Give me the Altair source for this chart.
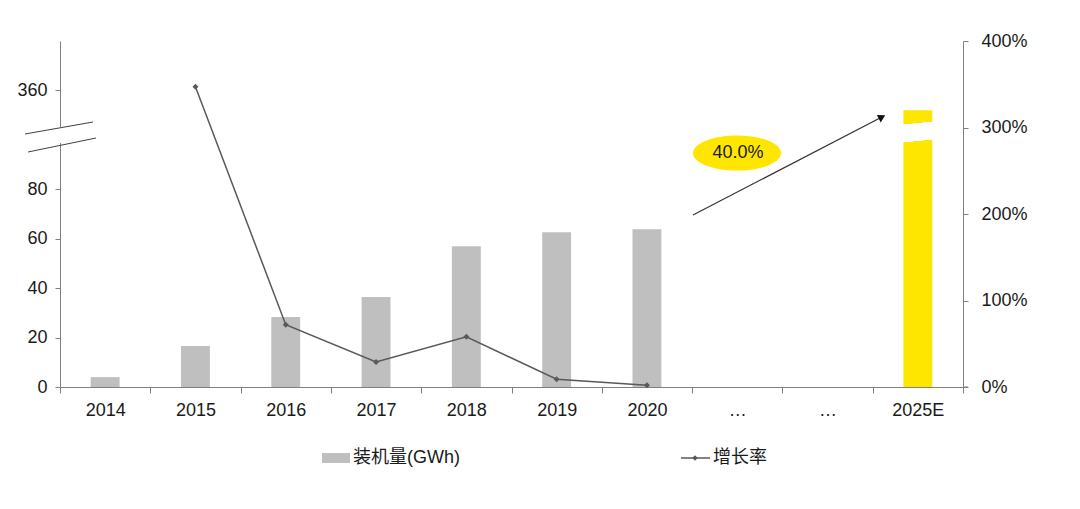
import altair as alt
import pandas as pd

# ---- data ----
categories = ["2014", "2015", "2016", "2017", "2018", "2019", "2020", "…a", "…b", "2025E"]
capacity = [4.0, 16.6, 28.3, 36.4, 57.0, 62.6, 63.8, None, None, 112.0]   # 装机量(GWh), axis-scale value
growth = [None, 3.47, 0.72, 0.29, 0.58, 0.09, 0.02, None, None, None]      # 增长率
bar_colors = ["#BFBFBF"] * 9 + ["#FFE600"]

FONT = "Liberation Sans, Arial, Noto Sans CJK SC"
FS = 18
W, H = 903, 346

df = pd.DataFrame({"cat": categories, "cap": capacity, "growth": growth, "color": bar_colors})

x_enc = alt.X(
    "cat:N",
    sort=categories,
    scale=alt.Scale(domain=categories, paddingInner=0, paddingOuter=0),
    axis=alt.Axis(
        title=None,
        labelExpr="(datum.value == '…a' || datum.value == '…b') ? '…' : datum.label",
        labelAngle=0,
        labelFont=FONT,
        labelFontSize=FS,
        labelColor="#1a1a1a",
        labelPadding=8,
        tickBand="extent",
        tickSize=6,
        tickColor="#808080",
        domainColor="#808080",
        grid=False,
    ),
)

bars = alt.Chart(df).mark_bar(width=alt.RelativeBandSize(0.32)).transform_filter(
    "datum.cap != null"
).encode(
    x=x_enc,
    y=alt.Y(
        "cap:Q",
        scale=alt.Scale(domain=[0, 140], nice=False),
        axis=alt.Axis(
            title=None,
            values=[0, 20, 40, 60, 80, 120],
            labelExpr="datum.value == 120 ? '360' : datum.label",
            labelFont=FONT,
            labelFontSize=FS,
            labelColor="#1a1a1a",
            labelPadding=8,
            tickSize=5,
            tickColor="#808080",
            domainColor="#808080",
            grid=False,
        ),
    ),
    color=alt.Color("color:N", scale=None),
)

# white gap across the 2025E bar (break)
gap = alt.Chart(df).mark_rule(color="white", strokeWidth=17).encode(
    x=alt.value(838), x2=alt.value(878), y=alt.value(93), y2=alt.value(89)
)

line = alt.Chart(df).transform_filter("datum.growth != null").mark_line(
    color="#595959", strokeWidth=1.5,
    point=alt.OverlayMarkDef(shape="diamond", size=36, color="#595959", filled=True),
).encode(
    x=alt.X("cat:N", sort=categories, scale=alt.Scale(domain=categories, paddingInner=0, paddingOuter=0)),
    y=alt.Y(
        "growth:Q",
        scale=alt.Scale(domain=[0, 4], nice=False),
        axis=alt.Axis(
            title=None,
            orient="right",
            values=[0, 1, 2, 3, 4],
            format=".0%",
            labelFont=FONT,
            labelFontSize=FS,
            labelColor="#1a1a1a",
            labelPadding=13,
            tickSize=5,
            tickColor="#808080",
            domainColor="#808080",
            grid=False,
        ),
    ),
)

# ---- annotations (axis break, arrow, bubble, legend) ----
ann = pd.DataFrame({"k": [0]})
base = alt.Chart(ann)

axis_gap = base.mark_rule(color="white", strokeWidth=4).encode(
    x=alt.value(0), x2=alt.value(0), y=alt.value(86), y2=alt.value(102)
)
break1 = base.mark_rule(color="#404040", strokeWidth=1).encode(
    x=alt.value(-35), x2=alt.value(33), y=alt.value(93), y2=alt.value(81)
)
break2 = base.mark_rule(color="#404040", strokeWidth=1).encode(
    x=alt.value(-32), x2=alt.value(36), y=alt.value(111), y2=alt.value(97)
)
x_ext = base.mark_rule(color="#808080", strokeWidth=1).encode(
    x=alt.value(903), x2=alt.value(908), y=alt.value(346)
)

arrow_line = base.mark_rule(color="#333333", strokeWidth=1.2).encode(
    x=alt.value(633), x2=alt.value(820), y=alt.value(174), y2=alt.value(77)
)
arrow_head = base.mark_point(shape="triangle-right", size=70, filled=True, color="#111111",
                             opacity=1, angle=332.6).encode(
    x=alt.value(822), y=alt.value(76)
)

ellipse = base.mark_point(
    shape="M-1,0 A1,0.4 0 1,0 1,0 A1,0.4 0 1,0 -1,0 Z",
    size=88 * 88, filled=True, color="#FFE600", opacity=1, strokeWidth=0,
).encode(x=alt.value(677), y=alt.value(112))
bubble_text = base.mark_text(text="40.0%", font=FONT, fontSize=18, color="#1a1a1a").encode(
    x=alt.value(678), y=alt.value(112)
)

legend_rect = base.mark_rect(color="#BFBFBF").encode(
    x=alt.value(262), x2=alt.value(290), y=alt.value(412), y2=alt.value(422)
)
legend_text1 = base.mark_text(text="装机量(GWh)", font=FONT, fontSize=FS, color="#1a1a1a",
                              align="left", baseline="middle").encode(
    x=alt.value(293), y=alt.value(417)
)
legend_line = base.mark_rule(color="#595959", strokeWidth=1.5).encode(
    x=alt.value(621), x2=alt.value(650), y=alt.value(417)
)
legend_pt = base.mark_point(shape="diamond", size=30, filled=True, color="#595959", opacity=1).encode(
    x=alt.value(635), y=alt.value(417)
)
legend_text2 = base.mark_text(text="增长率", font=FONT, fontSize=FS, color="#1a1a1a",
                              align="left", baseline="middle").encode(
    x=alt.value(653), y=alt.value(417)
)

chart = alt.layer(
    bars, gap, line,
    axis_gap, break1, break2, x_ext,
    arrow_line, arrow_head, ellipse, bubble_text,
    legend_rect, legend_text1, legend_line, legend_pt, legend_text2,
).resolve_scale(y="independent").properties(
    width=W, height=H,
    background="white",
    autosize=alt.AutoSizeParams(type="none"),
    padding={"left": 60, "top": 41, "right": 117, "bottom": 122},
).configure_view(stroke="transparent", strokeWidth=0)

chart.save("out.html", embed_options={"renderer": "svg", "actions": False})
